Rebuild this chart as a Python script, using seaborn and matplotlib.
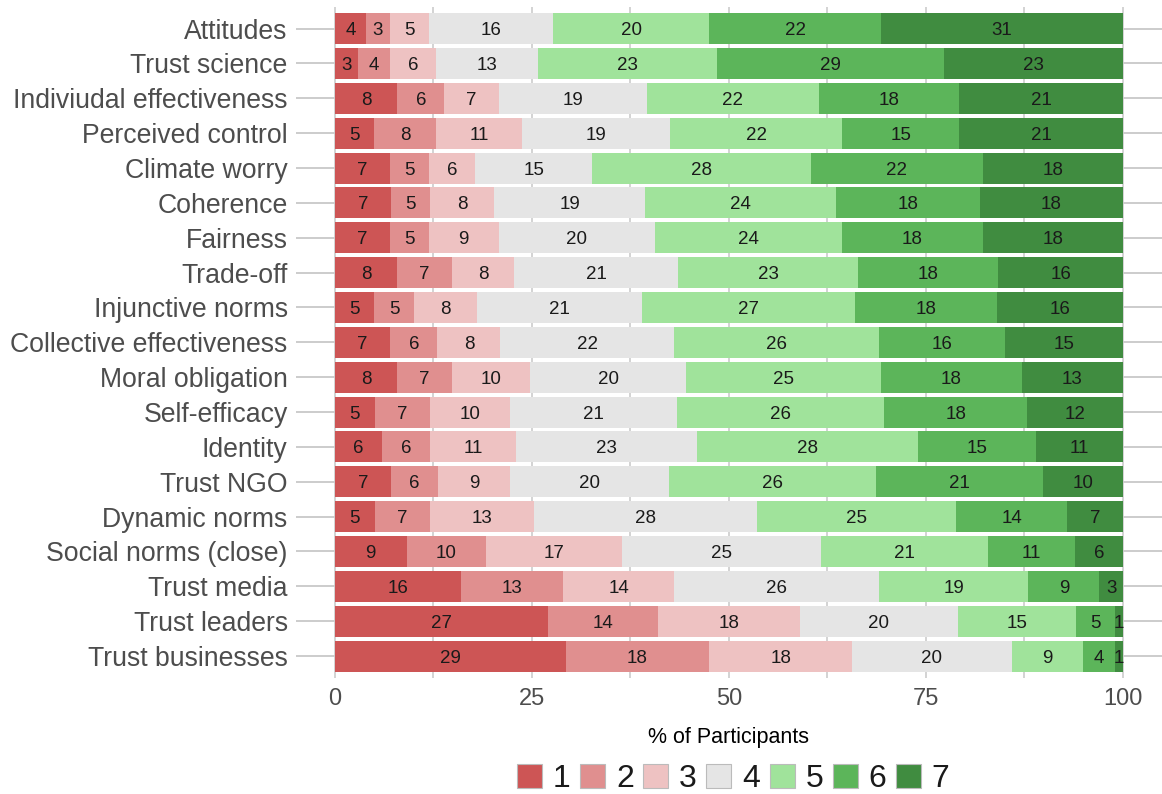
import numpy as np
import pandas as pd
import matplotlib
matplotlib.use("Agg")
import matplotlib.pyplot as plt
import seaborn as sns
from matplotlib.patches import Patch

# items, top to bottom
items = ["Attitudes", "Trust science", "Indiviudal effectiveness", "Perceived control",
         "Climate worry", "Coherence", "Fairness", "Trade-off", "Injunctive norms",
         "Collective effectiveness", "Moral obligation", "Self-efficacy", "Identity",
         "Trust NGO", "Dynamic norms", "Social norms (close)", "Trust media",
         "Trust leaders", "Trust businesses"]

# % of participants answering 1..7
lvl1 = [4, 3, 8, 5, 7, 7, 7, 8, 5, 7, 8, 5, 6, 7, 5, 9, 16, 27, 29]
lvl2 = [3, 4, 6, 8, 5, 5, 5, 7, 5, 6, 7, 7, 6, 6, 7, 10, 13, 14, 18]
lvl3 = [5, 6, 7, 11, 6, 8, 9, 8, 8, 8, 10, 10, 11, 9, 13, 17, 14, 18, 18]
lvl4 = [16, 13, 19, 19, 15, 19, 20, 21, 21, 22, 20, 21, 23, 20, 28, 25, 26, 20, 20]
lvl5 = [20, 23, 22, 22, 28, 24, 24, 23, 27, 26, 25, 26, 28, 26, 25, 21, 19, 15, 9]
lvl6 = [22, 29, 18, 15, 22, 18, 18, 18, 18, 16, 18, 18, 15, 21, 14, 11, 9, 5, 4]
lvl7 = [31, 23, 21, 21, 18, 18, 18, 16, 16, 15, 13, 12, 11, 10, 7, 6, 3, 1, 1]

levels = ["1", "2", "3", "4", "5", "6", "7"]
colors = ["#CD5555", "#E08F8F", "#EEC2C2", "#E5E5E5", "#A0E39B", "#5CB55A", "#408C40"]

wide = pd.DataFrame(np.array([lvl1, lvl2, lvl3, lvl4, lvl5, lvl6, lvl7]).T,
                    index=items, columns=levels)
# rounded values don't always add to 100, scale so every bar ends at 100
norm = wide.div(wide.sum(axis=1), axis=0) * 100

df = norm.reset_index(names="item").melt(id_vars="item", var_name="level", value_name="pct")
df["pos"] = df["item"].map({k: i for i, k in enumerate(items)})

sns.set_theme(style="white")
plt.rcParams["font.family"] = ["Liberation Sans", "DejaVu Sans"]

fig = plt.figure(figsize=(11.62, 7.94), dpi=100)
ax = fig.add_axes([0.2547, 0.1461, 0.7453, 0.8451])

grid_c = "#CCCCCC"
for i in range(len(items)):
    ax.axhline(i, color=grid_c, lw=1.4, zorder=0)
for x in np.arange(0, 100.1, 12.5):
    ax.axvline(x, color=grid_c, lw=1.2, zorder=0)

# hue_order reversed: seaborn stacks the last level first
sns.histplot(data=df, y="pos", weights="pct", hue="level",
             hue_order=levels[::-1], palette=dict(zip(levels, colors)),
             multiple="stack", discrete=True, shrink=0.89,
             alpha=1, linewidth=0, legend=False, ax=ax, zorder=2)

# segment labels
left = norm.cumsum(axis=1) - norm
for i, item in enumerate(items):
    for lv in levels:
        ax.text(left.loc[item, lv] + norm.loc[item, lv] / 2, i, str(wide.loc[item, lv]),
                ha="center", va="center_baseline", fontsize=13.5, color="#1A1A1A", zorder=3)

ax.set_xlim(-4.95, 104.95)
ax.set_ylim(18.63, -0.62)
ax.set_yticks(range(len(items)))
ax.set_yticklabels(items)
ax.set_xticks([0, 25, 50, 75, 100])
ax.set_xticklabels(["0", "25", "50", "75", "100"])
ax.tick_params(axis="y", length=0, pad=6, labelsize=19.2, labelcolor="#4D4D4D")
ax.tick_params(axis="x", length=0, pad=7.5, labelsize=17, labelcolor="#4D4D4D")
ax.set_ylabel("")
ax.set_xlabel("% of Participants", fontsize=15.5, color="black", labelpad=12)
for s in ax.spines.values():
    s.set_visible(False)

handles = [Patch(facecolor=c, edgecolor="#BBBBBB", lw=0.8, label=l) for l, c in zip(levels, colors)]
fig.legend(handles=handles, loc="center", bbox_to_anchor=(0.631, 0.019), ncol=7,
           frameon=False, fontsize=23, handlelength=0.78, handleheight=0.78,
           handletextpad=0.34, columnspacing=0.3, borderpad=0, labelcolor="#1A1A1A")

fig.savefig("out.png", dpi=100)
